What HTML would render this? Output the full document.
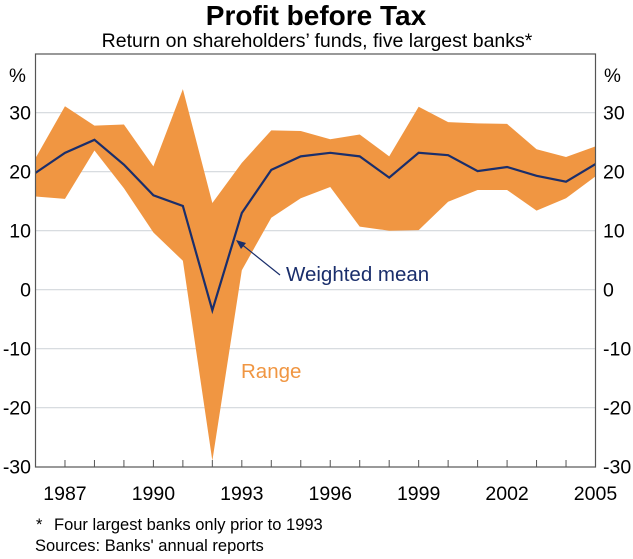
<!DOCTYPE html>
<html><head><meta charset="utf-8"><style>
body{margin:0;background:#fff;width:633px;height:554px;overflow:hidden;font-family:"Liberation Sans",Arial,sans-serif}
</style></head><body>
<svg width="633" height="554" viewBox="0 0 633 554">
<text x="316" y="25" text-anchor="middle" font-size="28" font-weight="bold" fill="#000">Profit before Tax</text>
<text x="317" y="47" text-anchor="middle" font-size="19.5" fill="#000">Return on shareholders’ funds, five largest banks*</text>
<g id="grid"></g>
<path id="range" fill="#f09642"/>
<polyline id="mean" fill="none" stroke="#1a2e6b" stroke-width="2.2" stroke-linejoin="miter"/>
<rect x="35.5" y="54" width="560" height="413" fill="none" stroke="#555" stroke-width="1.2"/>
<g id="ticks"></g>
<text x="9" y="82" font-size="19">%</text>
<text x="604" y="82" font-size="19">%</text>
<line x1="280" y1="275" x2="240" y2="243" stroke="#1a2e6b" stroke-width="1.2"/>
<polygon points="236,240 246,243 241,249" fill="#1a2e6b"/>
<text x="286" y="281" font-size="20.5" fill="#1a2e6b">Weighted mean</text>
<text x="241" y="378" font-size="20.5" fill="#f09642">Range</text>
<text x="36" y="530" font-size="16.5">*</text>
<text x="54" y="530" font-size="16.5">Four largest banks only prior to 1993</text>
<text x="35" y="551" font-size="16.5">Sources: Banks' annual reports</text>
</svg>
<script>
const years=[1986,1987,1988,1989,1990,1991,1992,1993,1994,1995,1996,1997,1998,1999,2000,2001,2002,2003,2004,2005];
const meanVals=[19.8,23.2,25.4,21.2,16,14.2,-3.5,13,20.3,22.6,23.2,22.6,19,23.2,22.8,20.1,20.8,19.3,18.3,21.3];
const upperVals=[22.3,31.1,27.8,28,20.9,34,14.7,21.5,27,26.9,25.5,26.3,22.6,31,28.4,28.2,28.1,23.8,22.5,24.3];
const lowerVals=[15.8,15.4,23.6,17.2,9.7,4.9,-29,3.3,12.2,15.5,17.4,10.7,10,10.1,14.9,16.9,16.9,13.4,15.5,19.2];
const yTicks=[30,20,10,0,-10,-20,-30];
const xLabels=[1987,1990,1993,1996,1999,2002,2005];
const X=y=>35.5+(y-1986)*(560/19);
const Y=v=>289.7-v*5.9;
const NS="http://www.w3.org/2000/svg";
const grid=document.getElementById('grid'),ticks=document.getElementById('ticks');
yTicks.forEach(t=>{
  if(t!==-30){const l=document.createElementNS(NS,'line');
  l.setAttribute('x1',35.5);l.setAttribute('x2',595.5);l.setAttribute('y1',Y(t));l.setAttribute('y2',Y(t));
  l.setAttribute('stroke','#d3d7dc');l.setAttribute('stroke-width','1.2');
  
  
  grid.appendChild(l);}
  const a=document.createElementNS(NS,'text');a.setAttribute('x',31);a.setAttribute('y',Y(t)+7);a.setAttribute('text-anchor','end');a.setAttribute('font-size','19.5');a.textContent=t;
  
  
  ticks.appendChild(a);
  const b=document.createElementNS(NS,'text');b.setAttribute('x',603);b.setAttribute('y',Y(t)+7);b.setAttribute('font-size','19.5');b.textContent=t;
  
  
  ticks.appendChild(b);
});
years.forEach(yr=>{if(yr===1986||yr===2005)return;
  const l=document.createElementNS(NS,'line');l.setAttribute('x1',X(yr));l.setAttribute('x2',X(yr));l.setAttribute('y1',467);l.setAttribute('y2',460);l.setAttribute('stroke','#555');
  
  
  ticks.appendChild(l);});
xLabels.forEach(yr=>{const t=document.createElementNS(NS,'text');t.setAttribute('x',X(yr));t.setAttribute('y',500);t.setAttribute('text-anchor','middle');t.setAttribute('font-size','19.5');t.textContent=yr;
  
  
  ticks.appendChild(t);});
let d='M'+years.map((y,i)=>X(y)+','+Y(upperVals[i])).join(' L');
for(let i=years.length-1;i>=0;i--)d+=' L'+X(years[i])+','+Y(lowerVals[i]);
document.getElementById('range').setAttribute('d',d+'Z');
document.getElementById('mean').setAttribute('points',years.map((y,i)=>X(y)+','+Y(meanVals[i])).join(' '));
</script>
</body></html>
